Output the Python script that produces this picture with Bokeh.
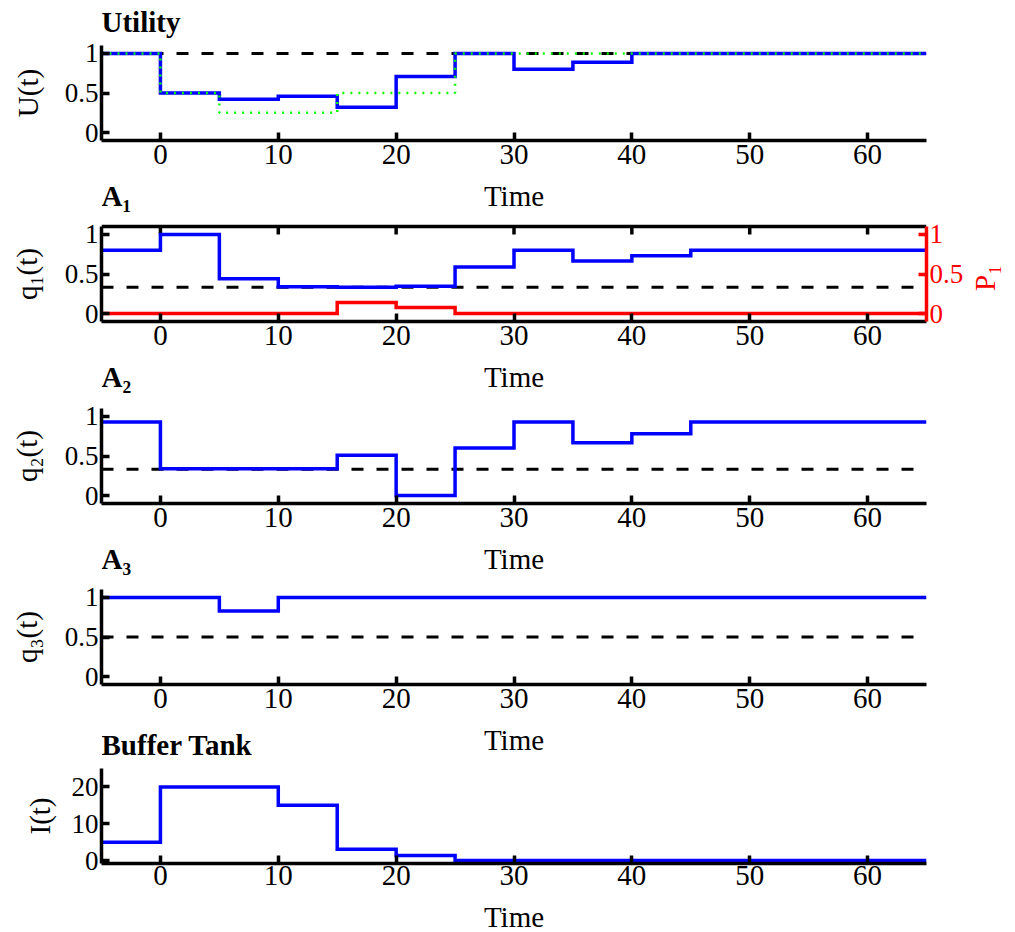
import math
from bokeh.plotting import figure
from bokeh.models import Range1d, LinearAxis, FixedTicker, Label
from bokeh.layouts import column
from bokeh.embed import file_html
from bokeh.resources import INLINE

# ---------------- data ----------------
time = [-5, 0, 5, 10, 15, 20, 25, 30, 35, 40, 45, 50, 55, 60, 65]
utility = [1.0, 0.5, 0.42, 0.46, 0.32, 0.71, 1.0, 0.80, 0.89, 1.0, 1.0, 1.0, 1.0, 1.0, 1.0]
utility_ref = [1.0, 0.5, 0.25, 0.25, 0.5, 0.5, 1.0, 1.0, 1.0, 1.0, 1.0, 1.0, 1.0, 1.0, 1.0]
q1 = [0.80, 1.0, 0.44, 0.34, 0.333, 0.345, 0.59, 0.80, 0.665, 0.73, 0.80, 0.80, 0.80, 0.80, 0.80]
p1 = [0.0, 0.0, 0.0, 0.0, 0.14, 0.076, 0.0, 0.0, 0.0, 0.0, 0.0, 0.0, 0.0, 0.0, 0.0]
q2 = [0.93, 0.338, 0.338, 0.338, 0.51, 0.0, 0.60, 0.93, 0.666, 0.78, 0.93, 0.93, 0.93, 0.93, 0.93]
q3 = [1.0, 1.0, 0.83, 1.0, 1.0, 1.0, 1.0, 1.0, 1.0, 1.0, 1.0, 1.0, 1.0, 1.0, 1.0]
inventory = [5, 20, 20, 15, 3.1, 1.35, 0, 0, 0, 0, 0, 0, 0, 0, 0]

u_threshold = 1.0
q1_threshold = 1 / 3
q2_threshold = 1 / 3
q3_threshold = 0.5

x_ticks = [0, 10, 20, 30, 40, 50, 60]
q_ticks = [0, 0.5, 1]
q_tick_labels = ["0", "0.5", "1"]
inv_ticks = [0, 10, 20]

titles = ["Utility", "A\u2081", "A\u2082", "A\u2083", "Buffer Tank"]
ylabels = ["U(t)", "q\u2081(t)", "q\u2082(t)", "q\u2083(t)", "I(t)"]
xlabel = "Time"
p1_label = "P\u2081"

# ---------------- style / layout ----------------
SERIF = "Liberation Serif"
BLUE = "#0000ff"
RED = "#ff0000"
GREEN = "#00ff00"
DASH = "12 13"
DATA_H = 95          # px of the plotted (boxed) region of each panel
FRAME_W = 825
LEFT, RIGHT = 101, 88
TICK_FS = "29px"
YTICK_FS = "27px"
LAB_FS = "29px"
LABEL_SHIFT = 9      # px correction for Label baseline placement


def style_axis(ax, ticks, color="black", size=YTICK_FS, standoff=8, overrides=None):
    ax.ticker = FixedTicker(ticks=ticks)
    ax.axis_line_color = color
    ax.axis_line_width = 3.5
    ax.major_tick_line_color = color
    ax.major_tick_line_width = 3.5
    ax.major_tick_in = 8
    ax.major_tick_out = 0
    ax.minor_tick_line_color = None
    ax.major_label_text_font = SERIF
    ax.major_label_text_font_size = size
    ax.major_label_text_color = color
    ax.major_label_standoff = standoff
    if overrides:
        ax.major_label_overrides = overrides


def label_axis(p, side, pos, lo, hi, text, standoff, orientation, color="black"):
    """an axis carrying one rotated label (the y-axis title) at data position pos"""
    ax = LinearAxis(ticker=FixedTicker(ticks=[pos]), major_label_overrides={pos: text},
                    axis_line_color=None, major_tick_line_color=None, minor_tick_line_color=None,
                    major_label_orientation=orientation, major_label_standoff=standoff,
                    major_label_text_font=SERIF, major_label_text_font_size=LAB_FS,
                    major_label_text_color=color, bounds=(lo, hi))
    p.add_layout(ax, side)


def make_fig(idx, lo, hi, frame_h, border_b, x_standoff, yticks, ylab_standoff):
    end = lo + (hi - lo) * frame_h / DATA_H
    p = figure(frame_width=FRAME_W, frame_height=frame_h,
               x_range=Range1d(time[0], time[-1]), y_range=Range1d(lo, end),
               min_border_left=LEFT, min_border_right=RIGHT,
               min_border_top=0, min_border_bottom=border_b,
               output_backend="svg", toolbar_location=None)
    p.grid.visible = False
    p.outline_line_color = None
    p.background_fill_color = "white"
    p.border_fill_color = "white"
    style_axis(p.xaxis[0], x_ticks, size=TICK_FS, standoff=x_standoff)
    ov = dict(zip([0, 0.5, 1], q_tick_labels)) if yticks == q_ticks else None
    style_axis(p.yaxis[0], yticks, size=YTICK_FS, standoff=3, overrides=ov)
    p.yaxis[0].bounds = (lo, hi)
    label_axis(p, "left", (lo + hi) / 2, lo, hi, ylabels[idx], ylab_standoff, "vertical")
    return p


def px_above(lo, hi, px):
    """data value px pixels above the top of the boxed region"""
    return hi + (px + LABEL_SHIFT) * (hi - lo) / DATA_H


def add_text(p, x, y, text, bold=False, align="left"):
    p.add_layout(Label(x=x, y=y, text=text, text_font=SERIF,
                       text_font_style="bold" if bold else "normal",
                       text_font_size=LAB_FS, text_align=align,
                       text_baseline="alphabetic", text_color="black"))


x_mid = (time[0] + time[-1]) / 2
qlo, qhi = -0.1, 1.1

# ---- Utility ----
p0 = make_fig(0, qlo, qhi, 140, 38, 4, q_ticks, 12)
p0.line([time[0], time[-1]], [u_threshold, u_threshold], line_color="black", line_width=3, line_dash=DASH)
p0.step(time, utility, mode="after", line_color=BLUE, line_width=3.5, line_join="miter")
p0.step(time, utility_ref, mode="after", line_color=GREEN, line_width=2.5, line_dash="2 6")
add_text(p0, time[0], px_above(qlo, qhi, 14.3), titles[0], bold=True)

# ---- A1 ----
p1f = make_fig(1, qlo, qhi, 143, 38, 4, q_ticks, 13)
add_text(p1f, x_mid, px_above(qlo, qhi, 22), xlabel, align="center")
add_text(p1f, time[0], px_above(qlo, qhi, 22), titles[1], bold=True)
# box top with inward ticks
tick_len = 8 * (qhi - qlo) / DATA_H
p1f.line([time[0], time[-1]], [qhi, qhi], line_color="black", line_width=3.5)
p1f.segment(x0=x_ticks, y0=[qhi] * len(x_ticks), x1=x_ticks, y1=[qhi - tick_len] * len(x_ticks),
            line_color="black", line_width=3.5)
right_ax = LinearAxis()
style_axis(right_ax, q_ticks, color=RED, size=YTICK_FS, standoff=3,
           overrides=dict(zip([0, 0.5, 1], q_tick_labels)))
right_ax.bounds = (qlo, qhi)
p1f.add_layout(right_ax, "right")
p1_pos = (qlo + qhi) / 2 - 17 * (qhi - qlo) / DATA_H
label_axis(p1f, "right", p1_pos, qlo, qhi, p1_label, 12, math.pi / 2, color=RED)
p1f.line([time[0], time[-1]], [q1_threshold, q1_threshold], line_color="black", line_width=3, line_dash=DASH)
p1f.step(time, q1, mode="after", line_color=BLUE, line_width=3.5, line_join="miter")
p1f.step(time, p1, mode="after", line_color=RED, line_width=3.5, line_join="miter")

# ---- A2 ----
p2 = make_fig(2, qlo, qhi, 144, 38, 4, q_ticks, 13)
add_text(p2, x_mid, px_above(qlo, qhi, 23), xlabel, align="center")
add_text(p2, time[0], px_above(qlo, qhi, 23), titles[2], bold=True)
p2.line([time[0], time[-1]], [q2_threshold, q2_threshold], line_color="black", line_width=3, line_dash=DASH)
p2.step(time, q2, mode="after", line_color=BLUE, line_width=3.5, line_join="miter")

# ---- A3 ----
p3 = make_fig(3, qlo, qhi, 143, 38, 4, q_ticks, 13)
add_text(p3, x_mid, px_above(qlo, qhi, 22), xlabel, align="center")
add_text(p3, time[0], px_above(qlo, qhi, 22), titles[3], bold=True)
p3.line([time[0], time[-1]], [q3_threshold, q3_threshold], line_color="black", line_width=3, line_dash=DASH)
p3.step(time, q3, mode="after", line_color=BLUE, line_width=3.5, line_join="miter")

# ---- Buffer tank ----
ilo, ihi = -0.8, 25
p4 = make_fig(4, ilo, ihi, 141, 36, 2, inv_ticks, 7)
add_text(p4, x_mid, px_above(ilo, ihi, 20), xlabel, align="center")
add_text(p4, time[0], px_above(ilo, ihi, 15), titles[4], bold=True)
p4.step(time, inventory, mode="after", line_color=BLUE, line_width=3.5, line_join="miter")

# ---- strip holding the last x-axis label ----
strip_h = 33
p5 = figure(frame_width=FRAME_W, frame_height=strip_h,
            x_range=Range1d(time[0], time[-1]), y_range=Range1d(0, strip_h),
            min_border_left=LEFT, min_border_right=RIGHT, min_border_top=0, min_border_bottom=0,
            x_axis_location=None, y_axis_location=None,
            output_backend="svg", toolbar_location=None)
p5.grid.visible = False
p5.outline_line_color = None
p5.border_fill_color = "white"
add_text(p5, x_mid, 6.5 + LABEL_SHIFT, xlabel, align="center")

layout = column(p0, p1f, p2, p3, p4, p5)
open("out.html", "w").write(file_html(layout, INLINE))
